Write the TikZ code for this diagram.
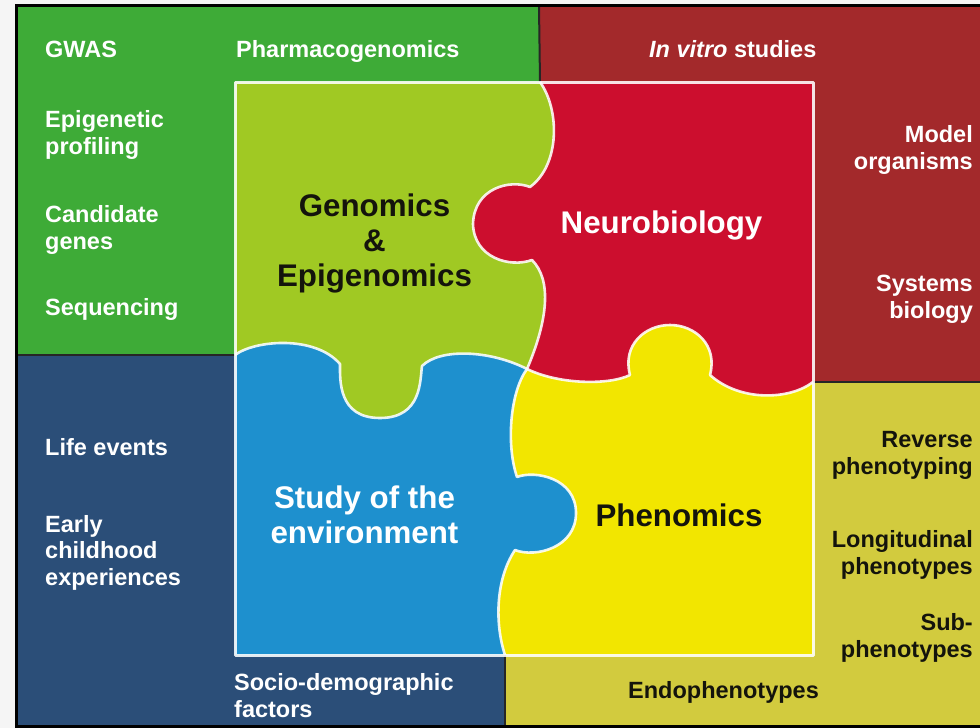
\documentclass[tikz,border=0pt]{standalone}
\usepackage{fontspec}
\setmainfont{Liberation Sans}
\begin{document}
\definecolor{outgreen}{RGB}{62,171,55}
\definecolor{piecegreen}{RGB}{160,201,35}
\definecolor{outred}{RGB}{163,41,43}
\definecolor{piecered}{RGB}{204,14,46}
\definecolor{outblue}{RGB}{43,78,120}
\definecolor{pieceblue}{RGB}{30,144,206}
\definecolor{outolive}{RGB}{210,203,62}
\definecolor{pieceyellow}{RGB}{242,230,0}
\definecolor{darktext}{RGB}{20,20,12}
\begin{tikzpicture}[x=1pt,y=-1pt,
  outlabel/.style={font=\bfseries\fontsize{23.5}{26.5}\selectfont, inner sep=0, text=white},
  leftlabel/.style={outlabel, anchor=base west, align=left},
  rightlabel/.style={outlabel, anchor=base east, align=right},
  biglabel/.style={font=\bfseries\fontsize{31.3}{35}\selectfont, inner sep=0, anchor=base, align=center},
  divider/.style={line width=2pt, black!85},
  seam/.style={line width=2.6pt, white, draw opacity=0.88, line join=round}]
\useasboundingbox (0,0) rectangle (980,728);
\clip (0,0) rectangle (980,728);
\fill[white!96!black] (0,0) rectangle (980,728);

% key points of the central square
\coordinate (TL) at (235,82);
\coordinate (TR) at (813,82);
\coordinate (BR) at (813,655);
\coordinate (BL) at (235,655);
\coordinate (T) at (540,82);
\coordinate (L) at (235,355);
\coordinate (R) at (813,382);
\coordinate (B) at (505,655);
\coordinate (J) at (527,369);

% outer quadrants
\fill[outgreen] (17,6) rectangle (539,355);
\fill[outred] (539,6) rectangle (985,382);
\fill[outblue] (17,355) rectangle (505,726);
\fill[outolive] (505,382) rectangle (985,726);
\draw[divider] (539,6) -- (T);
\draw[divider] (17,355) -- (L);
\draw[divider] (R) -- (985,382);
\draw[divider] (B) -- (505,726);
\draw[line width=3pt, black] (16,5) rectangle (990,726.5);

% puzzle pieces
\fill[piecegreen] (TL) -- (T)
  .. controls (560,110) and (560,165) .. (530,187)
  .. controls (510,179) and (474,188) .. (473,224)
  .. controls (474,258) and (510,268) .. (532,260)
  .. controls (552,280) and (548,320) .. (J)
  .. controls (490,350) and (440,348) .. (422,366)
  .. controls (420,380) and (422,418) .. (380,418)
  .. controls (338,418) and (340,380) .. (340,364)
  .. controls (315,335) and (255,340) .. (L) -- cycle;
\fill[piecered] (T) -- (TR) -- (R)
  .. controls (790,400) and (740,402) .. (710,375)
  .. controls (718,345) and (695,325) .. (670,325)
  .. controls (645,325) and (622,345) .. (630,375)
  .. controls (610,385) and (560,385) .. (J)
  .. controls (548,320) and (552,280) .. (532,260)
  .. controls (510,268) and (474,258) .. (473,224)
  .. controls (474,188) and (510,179) .. (530,187)
  .. controls (560,165) and (560,110) .. (T) -- cycle;
\fill[pieceblue] (L)
  .. controls (255,340) and (315,335) .. (340,364)
  .. controls (340,380) and (338,418) .. (380,418)
  .. controls (422,418) and (420,380) .. (422,366)
  .. controls (440,348) and (490,350) .. (J)
  .. controls (510,392) and (506,445) .. (517,477)
  .. controls (535,470) and (576,478) .. (576,513)
  .. controls (576,548) and (535,558) .. (515,550)
  .. controls (495,580) and (495,625) .. (B) -- (BL) -- cycle;
\fill[pieceyellow] (J)
  .. controls (560,385) and (610,385) .. (630,375)
  .. controls (622,345) and (645,325) .. (670,325)
  .. controls (695,325) and (718,345) .. (710,375)
  .. controls (740,402) and (790,400) .. (R) -- (BR) -- (B)
  .. controls (495,625) and (495,580) .. (515,550)
  .. controls (535,558) and (576,548) .. (576,513)
  .. controls (576,478) and (535,470) .. (517,477)
  .. controls (506,445) and (510,392) .. (J) -- cycle;

% seams between the pieces
\draw[seam] (T)
  .. controls (560,110) and (560,165) .. (530,187)
  .. controls (510,179) and (474,188) .. (473,224)
  .. controls (474,258) and (510,268) .. (532,260)
  .. controls (552,280) and (548,320) .. (J);
\draw[seam] (L)
  .. controls (255,340) and (315,335) .. (340,364)
  .. controls (340,380) and (338,418) .. (380,418)
  .. controls (422,418) and (420,380) .. (422,366)
  .. controls (440,348) and (490,350) .. (J);
\draw[seam] (J)
  .. controls (560,385) and (610,385) .. (630,375)
  .. controls (622,345) and (645,325) .. (670,325)
  .. controls (695,325) and (718,345) .. (710,375)
  .. controls (740,402) and (790,400) .. (R);
\draw[seam] (J)
  .. controls (510,392) and (506,445) .. (517,477)
  .. controls (535,470) and (576,478) .. (576,513)
  .. controls (576,548) and (535,558) .. (515,550)
  .. controls (495,580) and (495,625) .. (B);
\draw[seam, line width=3pt] (TL) rectangle (BR);

% central labels (multi-line nodes sit on the baseline of their last line)
\node[biglabel, text=darktext] (genomics) at (374.5,286) {Genomics\\\&\\Epigenomics};
\node[biglabel, text=white] (neuro) at (661.5,233) {Neurobiology};
\node[biglabel, text=white] (environment) at (364.5,543) {Study of the\\environment};
\node[biglabel, text=darktext] (phenomics) at (679,526) {Phenomics};

% genomics methods
\node[leftlabel] (gwas) at (45,57) {GWAS};
\node[leftlabel] (pharma) at (236,57) {Pharmacogenomics};
\node[leftlabel] (epi) at (45,154) {Epigenetic\\profiling};
\node[leftlabel] (cand) at (45,249) {Candidate\\genes};
\node[leftlabel] (seq) at (45,315) {Sequencing};

% neurobiology methods
\node[leftlabel] (invitro) at (649,57) {\itshape In vitro\/\upshape{} studies};
\node[rightlabel] (model) at (973,169) {Model\\organisms};
\node[rightlabel] (systems) at (973,318) {Systems\\biology};

% environment factors
\node[leftlabel] (life) at (45,455) {Life events};
\node[leftlabel] (early) at (45,585) {Early\\childhood\\experiences};
\node[leftlabel] (socio) at (234,717) {Socio-demographic\\factors};

% phenomics approaches
\node[rightlabel, text=darktext] (reverse) at (973,474) {Reverse\\phenotyping};
\node[rightlabel, text=darktext] (longi) at (973,574) {Longitudinal\\phenotypes};
\node[rightlabel, text=darktext] (sub) at (973,657) {Sub-\\phenotypes};
\node[leftlabel, text=darktext] (endo) at (628,698) {Endophenotypes};
\end{tikzpicture}
\end{document}
